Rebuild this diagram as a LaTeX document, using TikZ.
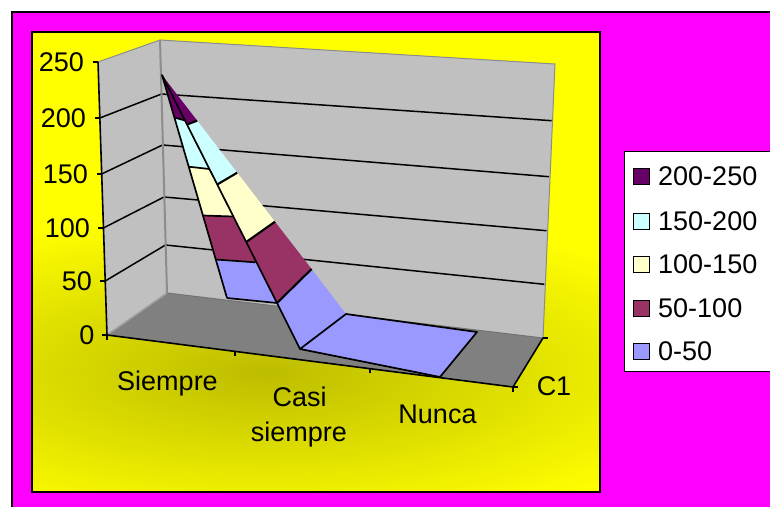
\documentclass[tikz,border=0pt]{standalone}
\usepackage{fontspec}
\setmainfont{Liberation Sans}
\definecolor{magbg}{HTML}{FF00FF}
\definecolor{plotyel}{HTML}{FFFF00}
\definecolor{wallgray}{HTML}{C0C0C0}
\definecolor{floorgray}{HTML}{808080}
\definecolor{edgegray}{HTML}{8C8C8C}
\definecolor{bandA}{HTML}{660066}
\definecolor{bandB}{HTML}{CCFFFF}
\definecolor{bandC}{HTML}{FFFFCC}
\definecolor{bandD}{HTML}{993366}
\definecolor{bandE}{HTML}{9999FF}
\tikzset{
  frameline/.style={draw=black, line width=1.5pt},
  gridline/.style={draw=black, line width=1.5pt},
  walledge/.style={draw=edgegray, line width=1pt},
  axisline/.style={draw=black, line width=1.6pt},
  surfline/.style={draw=black, line width=1.7pt, line join=round},
  lab/.style={inner sep=0pt, font=\fontsize{27}{32}\selectfont},
  legsq/.style={draw=black, line width=1.3pt, minimum size=16pt, inner sep=0pt},
}
\begin{document}
\begin{tikzpicture}[x=1pt,y=-1pt]
\useasboundingbox (0,0) rectangle (770,506);
\fill[white] (0,0) rectangle (770,506);
% outer chart area
\filldraw[fill=magbg, frameline] (12,12) rectangle (790,520);
% plot area
\fill[plotyel] (32,32) rectangle (600,492);
\begin{scope}
  \clip (32,32) rectangle (600,492);
  \shade[inner color=plotyel!74!black, outer color=plotyel] (265,372) ellipse [x radius=480, y radius=160];
\end{scope}
\draw[frameline] (32,32) rectangle (600,492);

% coordinates: front-left value axis
\coordinate (F0) at (107,335);
\coordinate (F50) at (105.2,281);
\coordinate (F100) at (103.4,228);
\coordinate (F150) at (101.6,174);
\coordinate (F200) at (99.8,118);
\coordinate (F250) at (98,62);
% back-left edge
\coordinate (L0) at (167,293);
\coordinate (L50) at (165.5,245);
\coordinate (L100) at (164,197);
\coordinate (L150) at (162.5,145);
\coordinate (L200) at (161.5,94);
\coordinate (L250) at (160,40);
% back-right edge
\coordinate (R0) at (543,338);
\coordinate (R50) at (544.3,284.3);
\coordinate (R100) at (546.5,230.7);
\coordinate (R150) at (549,176.7);
\coordinate (R200) at (551.7,120.7);
\coordinate (R250) at (555,64);
% front-right floor corner
\coordinate (Q0) at (513,387);

% walls
\fill[wallgray] (F0) -- (F250) -- (L250) -- (L0) -- cycle;
\fill[wallgray] (L0) -- (L250) -- (R250) -- (R0) -- cycle;
\fill[floorgray] (F0) -- (L0) -- (R0) -- (Q0) -- cycle;
% gridlines
\foreach \v in {50,100,150,200} {
  \draw[gridline] (F\v) -- (L\v) -- (R\v);
}
% wall edges
\draw[walledge] (F250) -- (L250) -- (R250) -- (R0);
\draw[draw=edgegray, line width=2pt] (L250) -- (L0);
\draw[draw=gray!75, line width=1.6pt] (F0) -- (L0);
\draw[draw=gray!110, line width=1pt] (L0) -- (R0);

% axes
\draw[axisline] (F250) -- (F0) -- (Q0) -- (R0);
\foreach \v in {0,50,100,150,200,250} {
  \draw[axisline] (F\v) -- ++(-5,0) coordinate (T\v);
}
\coordinate (K1) at (235,351.5);
\coordinate (K2) at (370,368.7);
\draw[axisline] (F0) -- ++(0,4.5);
\draw[axisline] (K1) -- ++(0,4.5);
\draw[axisline] (K2) -- ++(0,4.5);
\draw[axisline] (Q0) -- ++(0,4.5);
\draw[axisline] (Q0) -- ++(5,0);
\draw[axisline] (R0) -- ++(5,0);

% surface points
\coordinate (P) at (162,75);
\coordinate (A200) at (174.4,117.5);
\coordinate (A150) at (188.7,166.7);
\coordinate (A100) at (202.8,215.5);
\coordinate (A50) at (215.5,259.5);
\coordinate (A0) at (227,298);
\coordinate (BL200) at (185,120.5);
\coordinate (BL150) at (209.4,169);
\coordinate (BL100) at (233.3,216.5);
\coordinate (BL50) at (255.5,262.3);
\coordinate (B0) at (277,303);
\coordinate (BR200) at (187,124.5);
\coordinate (BR150) at (217.2,184.5);
\coordinate (BR100) at (246.2,242);
\coordinate (E200) at (197.2,120.7);
\coordinate (E150) at (237.2,172.7);
\coordinate (E100) at (275,221.7);
\coordinate (E50) at (311.6,269);
\coordinate (D) at (346,314);
\coordinate (C0) at (300,349);
\coordinate (G) at (477,332);
\coordinate (H) at (440,377);

% right strip fills
\fill[bandA] (P) -- (BR200) -- (E200) -- cycle;
\fill[bandB] (BR200) -- (E200) -- (E150) -- (BR150) -- cycle;
\fill[bandC] (BR150) -- (E150) -- (E100) -- (BR100) -- cycle;
\fill[bandD] (BR100) -- (E100) -- (E50) -- (B0) -- cycle;
\fill[bandE] (B0) -- (E50) -- (D) -- (C0) -- cycle;
\fill[bandE] (C0) -- (D) -- (G) -- (H) -- cycle;
% left strip fills
\fill[bandA] (P) -- (A200) -- (BL200) -- cycle;
\fill[bandB] (A200) -- (BL200) -- (BL150) -- (A150) -- cycle;
\fill[bandC] (A150) -- (BL150) -- (BL100) -- (A100) -- cycle;
\fill[bandD] (A100) -- (BL100) -- (BL50) -- (A50) -- cycle;
\fill[bandE] (A50) -- (BL50) -- (B0) -- (A0) -- cycle;
% surface outlines
\draw[surfline] (A0) -- (P) -- (B0) -- (C0) -- (D) -- (G) -- (H) -- (C0);
\draw[surfline] (A0) -- (B0);
\draw[surfline] (A200) -- (BL200);
\draw[surfline] (A150) -- (BL150);
\draw[surfline] (A100) -- (BL100);
\draw[surfline] (A50) -- (BL50);
\draw[surfline, line width=2.1pt] (BR200) -- (E200);
\draw[surfline, line width=2.1pt] (BR150) -- (E150);
\draw[surfline, line width=2.1pt] (BR100) -- (E100);
\draw[surfline, line width=2.1pt] (B0) -- (E50);

% value labels
\node[lab, anchor=east] (v250) at (84,62) {250};
\node[lab, anchor=east] (v200) at (86,118) {200};
\node[lab, anchor=east] (v150) at (88,174) {150};
\node[lab, anchor=east] (v100) at (90,228) {100};
\node[lab, anchor=east] (v50) at (92,281) {50};
\node[lab, anchor=east] (v0) at (94.5,335) {0};
% category labels
\node[lab, anchor=base] (c1) at (167.5,390) {Siempre};
\node[lab, anchor=base] (c2a) at (299.7,406) {Casi};
\node[lab, anchor=base] (c2b) at (299,441.5) {siempre};
\node[lab, anchor=base] (c3) at (437.5,423.3) {Nunca};
\node[lab, anchor=base] (s1) at (554,395.7) {C1};

% legend
\filldraw[fill=white, frameline] (624.3,151.7) rectangle (790,371.7);
\node[legsq, fill=bandA] (k1) at (641.7,176.7) {};
\node[legsq, fill=bandB] (k2) at (641.7,221.2) {};
\node[legsq, fill=bandC] (k3) at (641.7,264.3) {};
\node[legsq, fill=bandD] (k4) at (641.7,308.2) {};
\node[legsq, fill=bandE] (k5) at (641.7,351.3) {};
\node[lab, anchor=west] (t1) at (658,176.7) {200-250};
\node[lab, anchor=west] (t2) at (658,221.2) {150-200};
\node[lab, anchor=west] (t3) at (658,264.3) {100-150};
\node[lab, anchor=west] (t4) at (658,308.2) {50-100};
\node[lab, anchor=west] (t5) at (658,351.3) {0-50};
\end{tikzpicture}
\end{document}
